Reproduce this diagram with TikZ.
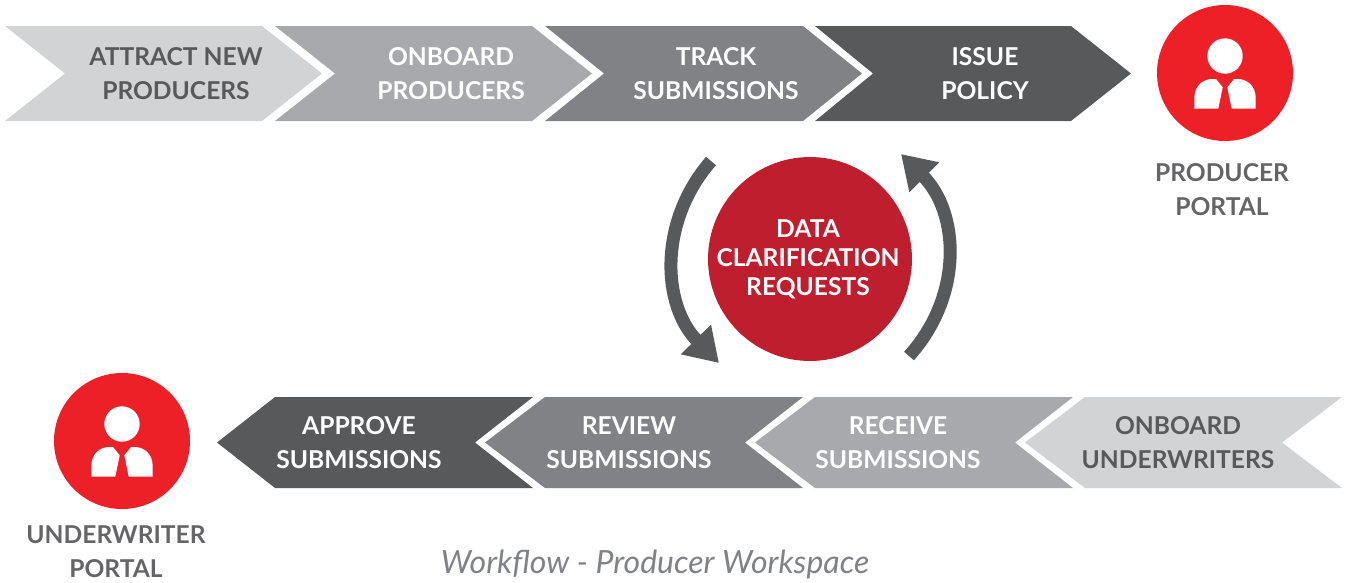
\documentclass[tikz,border=0pt]{standalone}
\usepackage{fontspec}
\setmainfont{Lato}
\usetikzlibrary{arrows.meta}
\definecolor{greyA}{HTML}{D1D3D4}
\definecolor{greyB}{HTML}{A7A9AC}
\definecolor{greyC}{HTML}{808285}
\definecolor{greyD}{HTML}{58595B}
\definecolor{portalred}{HTML}{EE2027}
\definecolor{datared}{HTML}{BE1E2D}
\definecolor{portalgrey}{HTML}{656567}
\definecolor{captiongrey}{HTML}{808285}
\tikzset{
  steplabel/.style={align=center,font=\fontsize{14}{19.35}\selectfont\bfseries,inner sep=0pt},
  portallabel/.style={steplabel,text=portalgrey},
  circarrow/.style={line width=0.26cm,draw=greyD,-{Triangle[length=6.6mm,width=8mm]}},
  person/.pic={
    \fill[portalred] (0,0) circle (68);
    \fill[white] (0,-17) circle (17.7);
    \fill[white] (-30.7,35.7) -- (-30.7,25) .. controls (-30.7,13) and (-22,6) .. (-13,6) -- (-9,6) -- (-2.3,14.3) -- (-6.7,35.7) -- cycle;
    \fill[white] (30.7,35.7) -- (30.7,25) .. controls (30.7,13) and (22,6) .. (13,6) -- (9,6) -- (2.3,14.3) -- (6.7,35.7) -- cycle;
  }
}
\begin{document}
\begin{tikzpicture}[x=0.02cm,y=-0.02cm]
\useasboundingbox (0,0) rectangle (1349,582);
% upper row
\fill[greyA] (5,26) -- (262,26) -- (322,73.5) -- (262,121) -- (5,121) -- (65,73.5) -- cycle;
\fill[greyB] (275,26) -- (532,26) -- (592,73.5) -- (532,121) -- (275,121) -- (335,73.5) -- cycle;
\fill[greyC] (545,26) -- (803,26) -- (862,73.5) -- (803,121) -- (545,121) -- (604,73.5) -- cycle;
\fill[greyD] (815,26) -- (1071,26) -- (1131,73.5) -- (1071,121) -- (815,121) -- (873,73.5) -- cycle;
\node[steplabel,text=greyD] (attract) at (176,74) {ATTRACT NEW\\PRODUCERS};
\node[steplabel,text=white] (onboardprod) at (451,74) {ONBOARD\\PRODUCERS};
\node[steplabel,text=white] (track) at (716,74) {TRACK\\SUBMISSIONS};
\node[steplabel,text=white] (issue) at (985,74) {ISSUE\\POLICY};
% producer portal
\pic at (1225,73) {person};
\node[portallabel] (producer) at (1222,190) {PRODUCER\\PORTAL};
% centre circle
\node[circle,fill=datared,minimum size=4.08cm,inner sep=0pt] (data) at (810,259) {};
\node[steplabel,text=white,font=\fontsize{14}{16.5}\selectfont\bfseries] (datatext) at (808,259.5) {DATA\\CLARIFICATION\\REQUESTS};
% arrows round the circle
\coordinate (leftstart) at (711,161);
\coordinate (leftend) at (719,363);
\coordinate (rightstart) at (909,356);
\coordinate (rightend) at (901,154);
\draw[circarrow] (leftstart) .. controls (658,222) and (662,305) .. (leftend);
\draw[circarrow] (rightstart) .. controls (964,295) and (959,212) .. (rightend);
% lower row
\fill[greyD] (217,442.5) -- (275,397) -- (533,397) -- (475,442.5) -- (533,488) -- (275,488) -- cycle;
\fill[greyC] (485,442.5) -- (545,397) -- (803,397) -- (745,442.5) -- (803,488) -- (545,488) -- cycle;
\fill[greyB] (755,442.5) -- (815,397) -- (1073,397) -- (1015,442.5) -- (1073,488) -- (815,488) -- cycle;
\fill[greyA] (1025,442.5) -- (1085,397) -- (1342,397) -- (1282,442.5) -- (1342,488) -- (1085,488) -- cycle;
\node[steplabel,text=white] (approve) at (359,443) {APPROVE\\SUBMISSIONS};
\node[steplabel,text=white] (review) at (629,443) {REVIEW\\SUBMISSIONS};
\node[steplabel,text=white] (receive) at (898,443) {RECEIVE\\SUBMISSIONS};
\node[steplabel,text=greyD] (onboardund) at (1178,443) {ONBOARD\\UNDERWRITERS};
% underwriter portal
\pic at (122,441) {person};
\node[portallabel] (underwriter) at (116,552) {UNDERWRITER\\PORTAL};
% caption
\node[inner sep=0pt,text=captiongrey,font=\fontsize{18.2}{21}\selectfont\itshape] (caption) at (655,564) {Workflow - Producer Workspace};
\end{tikzpicture}
\end{document}
